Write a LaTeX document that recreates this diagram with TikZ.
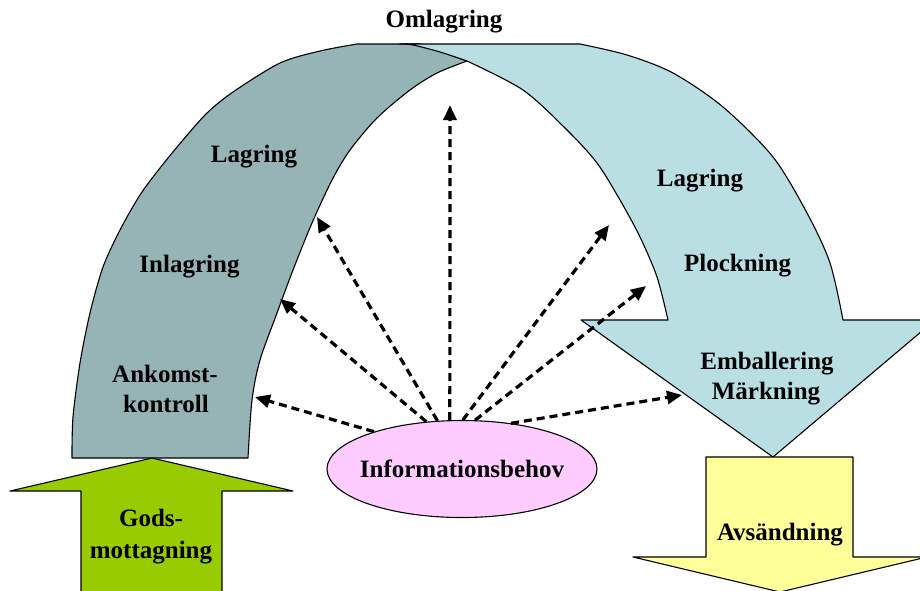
\documentclass[tikz,border=0pt]{standalone}
\usepackage{fontspec}
\setmainfont{Liberation Serif}
\usetikzlibrary{shapes.geometric,arrows.meta}
\definecolor{archgray}{RGB}{150,179,182}
\definecolor{archblue}{RGB}{185,223,227}
\definecolor{gogreen}{RGB}{153,204,0}
\definecolor{goyellow}{RGB}{255,255,153}
\definecolor{infopink}{RGB}{255,204,255}
\begin{document}
\begin{tikzpicture}[x=1pt,y=-1pt,
  outline/.style={draw=black, line width=1.1pt, line join=round},
  lbl/.style={font=\fontsize{25}{30}\selectfont\bfseries, inner sep=0pt, anchor=base},
  infoarrow/.style={draw=black, line width=3.2pt, dash pattern=on 8pt off 5pt,
    -{Triangle[length=15pt,width=13pt]}}]
\useasboundingbox (0,0) rectangle (920,590);
\clip (0,0) rectangle (920,590);
% left (grey) part of the arch
\draw[outline, fill=archgray]
  plot[smooth] coordinates {(72,458) (73,417) (80,363) (90,313) (103,267) (120,230) (140,195) (160,168) (183,140) (207,113) (233,92) (280,63) (320,51) (357,44)}
  -- (420,44) -- (467,61)
  -- plot[smooth] coordinates {(467,61) (437,73) (410,90) (377,118) (350,150) (332,180) (312,223) (293,270) (277,313) (260,360) (252,400) (248,458)}
  -- cycle;
% right (blue) part with arrow head
\draw[outline, fill=archblue]
  (400,44) -- (580,44)
  -- plot[smooth] coordinates {(580,44) (627,55) (673,73) (723,107) (773,157) (807,213) (830,263) (843,320)}
  -- (935,320) -- (773,457) -- (581,320) -- (668,320)
  -- plot[smooth] coordinates {(668,320) (657,277) (640,237) (620,200) (597,163) (567,130) (523,90) (467,61)}
  -- plot[smooth] coordinates {(467,61) (440,52) (413,45) (400,44)}
  -- cycle;
% incoming arrow
\draw[outline, fill=gogreen]
  (81,600) -- (81,491) -- (10,491) -- (152,458) -- (293,491) -- (222,491) -- (222,600) -- cycle;
% outgoing arrow
\draw[outline, fill=goyellow]
  (706,457) -- (853,457) -- (853,557) -- (927,557) -- (780,592) -- (633,557) -- (706,557) -- cycle;
% information need
\node[ellipse, outline, fill=infopink, minimum width=270pt, minimum height=97pt,
  inner xsep=-9pt, inner ysep=0pt,
  font=\fontsize{25}{30}\selectfont\bfseries] (need) at (462,469) {Informationsbehov};
% targets
\coordinate (t1) at (255,397);
\coordinate (t2) at (280,299);
\coordinate (t3) at (317,217);
\coordinate (t4) at (450,105);
\coordinate (t5) at (609,225);
\coordinate (t6) at (646,286);
\coordinate (t7) at (682,395);
\draw[infoarrow] (need.157) -- (t1);
\draw[infoarrow] (need.127) -- (t2);
\draw[infoarrow] (need.117) -- (t3);
\draw[infoarrow] (need.104) -- (t4);
\draw[infoarrow] (need.89) -- (t5);
\draw[infoarrow] (need.75) -- (t6);
\draw[infoarrow] (need.43) -- (t7);
% labels
\node[lbl] (omlag) at (444,27) {Omlagring};
\node[lbl] (lagL) at (254,162) {Lagring};
\node[lbl] (inlag) at (189.5,272) {Inlagring};
\node[lbl] (ank1) at (165,382) {Ankomst-};
\node[lbl] (ank2) at (166,412) {kontroll};
\node[lbl] (lagR) at (700,186) {Lagring};
\node[lbl] (plock) at (737.5,271) {Plockning};
\node[lbl] (emb) at (767,369) {Emballering};
\node[lbl] (mark) at (766,399) {Märkning};
\node[lbl] (gods1) at (151,526) {Gods-};
\node[lbl] (gods2) at (151,558) {mottagning};
\node[lbl] (avs) at (780,540) {Avsändning};
\end{tikzpicture}
\end{document}
